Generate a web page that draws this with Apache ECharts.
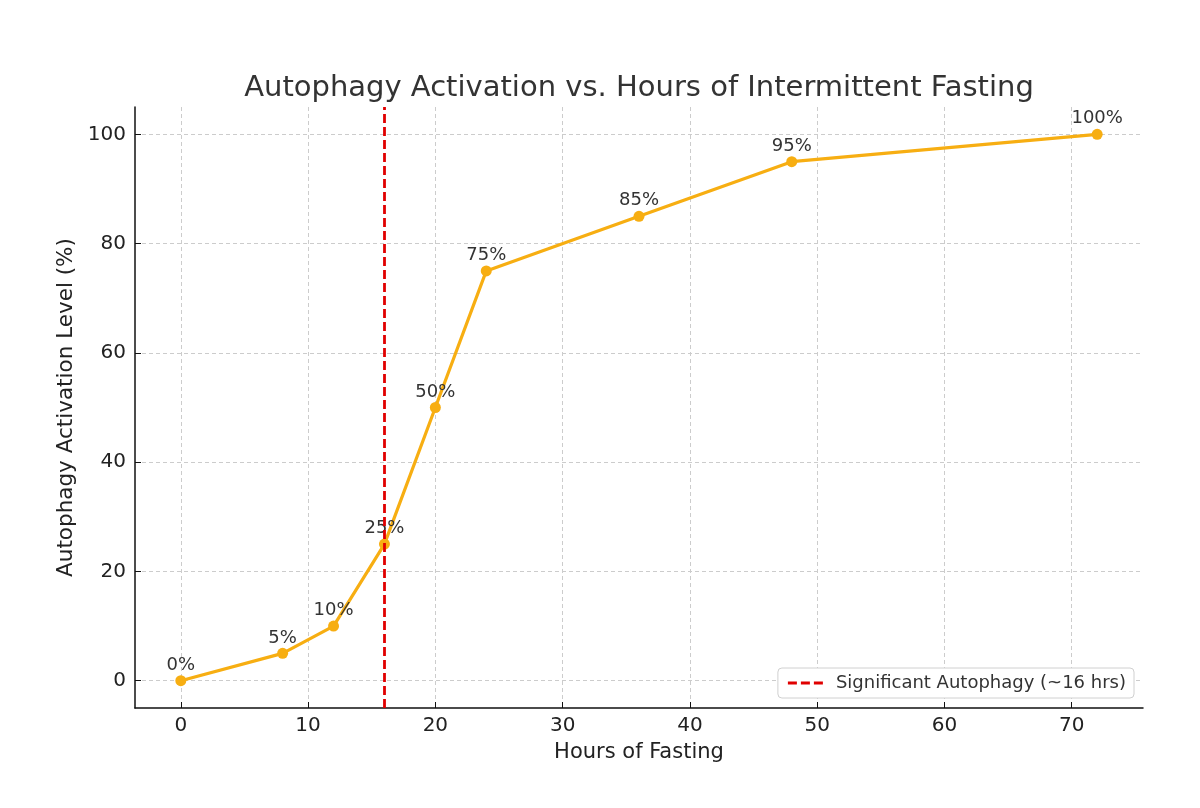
<!DOCTYPE html>
<html>
<head>
<meta charset="utf-8">
<script src="https://cdn.jsdelivr.net/npm/echarts@6/dist/echarts.min.js"></script>
<style>
  html, body { margin: 0; padding: 0; background: #fff; }
  #main { width: 1200px; height: 808px; }
</style>
</head>
<body>
<div id="main"></div>
<script>
var hours = [0, 8, 12, 16, 20, 24, 36, 48, 72];
var activation = [0, 5, 10, 25, 50, 75, 85, 95, 100];
var xTicks = [0, 10, 20, 30, 40, 50, 60, 70];
var yTicks = [0, 20, 40, 60, 80, 100];
var thresholdHours = 16;
var thresholdName = 'Significant Autophagy (~16 hrs)';

var myChart = echarts.init(document.getElementById('main'));

var points = hours.map(function (h, i) { return [h, activation[i]]; });
var font = 'DejaVu Sans';

var option = {
    backgroundColor: '#fff',
    textStyle: { fontFamily: font },
    animation: false,
    title: {
        text: 'Autophagy Activation vs. Hours of Intermittent Fasting',
        left: 634,
        textAlign: 'center',
        top: 69,
        textStyle: { fontFamily: font, fontSize: 29, fontWeight: 'normal', color: '#333' }
    },
    grid: { left: 135, right: 57, top: 107, bottom: 100 },
    legend: {
        data: [{
            name: thresholdName,
            // three short dashes, like the matplotlib legend handle
            icon: 'path://M0,0h9v3h-9z M13,0h9v3h-9z M26,0h9v3h-9z'
        }],
        right: 66,
        bottom: 110,
        itemWidth: 35,
        itemHeight: 3,
        itemGap: 10,
        padding: [6, 8, 6, 10],
        borderColor: '#d0d0d0',
        borderWidth: 1,
        borderRadius: 4,
        backgroundColor: '#fff',
        textStyle: { fontFamily: font, fontSize: 18, color: '#333', padding: [0, 0, 0, 8] }
    },
    xAxis: {
        type: 'value',
        min: -3.6,
        max: 75.6,
        name: 'Hours of Fasting',
        nameLocation: 'middle',
        nameGap: 34,
        nameTextStyle: { fontFamily: font, fontSize: 21, color: '#222' },
        axisLine: { show: true, onZero: false, lineStyle: { color: '#111', width: 1.5 } },
        axisTick: { show: true, inside: true, length: 6, customValues: xTicks, lineStyle: { color: '#111' } },
        axisLabel: { customValues: xTicks, fontFamily: font, fontSize: 20, color: '#222', margin: 8 },
        splitLine: { show: true, lineStyle: { color: '#cccccc', type: [4, 3], width: 1 } }
    },
    yAxis: {
        type: 'value',
        min: -5,
        max: 105,
        name: 'Autophagy Activation Level (%)',
        nameLocation: 'middle',
        nameGap: 57,
        nameTextStyle: { fontFamily: font, fontSize: 21.5, color: '#222' },
        axisLine: { show: true, onZero: false, lineStyle: { color: '#111', width: 1.5 } },
        axisTick: { show: true, inside: true, length: 6, customValues: yTicks, lineStyle: { color: '#111' } },
        axisLabel: { customValues: yTicks, fontFamily: font, fontSize: 20, color: '#222', margin: 9 },
        splitLine: { show: true, lineStyle: { color: '#cccccc', type: [4, 3], width: 1 } }
    },
    series: [
        {
            name: 'Activation',
            type: 'line',
            data: points,
            symbol: 'circle',
            symbolSize: 11,
            lineStyle: { color: '#F7AE12', width: 3.2 },
            itemStyle: { color: '#F7AE12' },
            label: {
                show: true,
                position: 'top',
                distance: 1,
                formatter: function (p) { return p.value[1] + '%'; },
                fontFamily: font,
                fontSize: 18,
                color: '#333'
            },
            z: 3
        },
        {
            name: thresholdName,
            type: 'line',
            data: [],
            symbol: 'none',
            lineStyle: { color: '#E00000', width: 2.8, type: [9, 4] },
            itemStyle: { color: '#E00000' },
            markLine: {
                silent: true,
                symbol: 'none',
                label: { show: false },
                lineStyle: { color: '#E00000', width: 2.8, type: [9, 4] },
                data: [{ xAxis: thresholdHours }]
            },
            z: 2
        }
    ]
};

myChart.setOption(option);
</script>
</body>
</html>
